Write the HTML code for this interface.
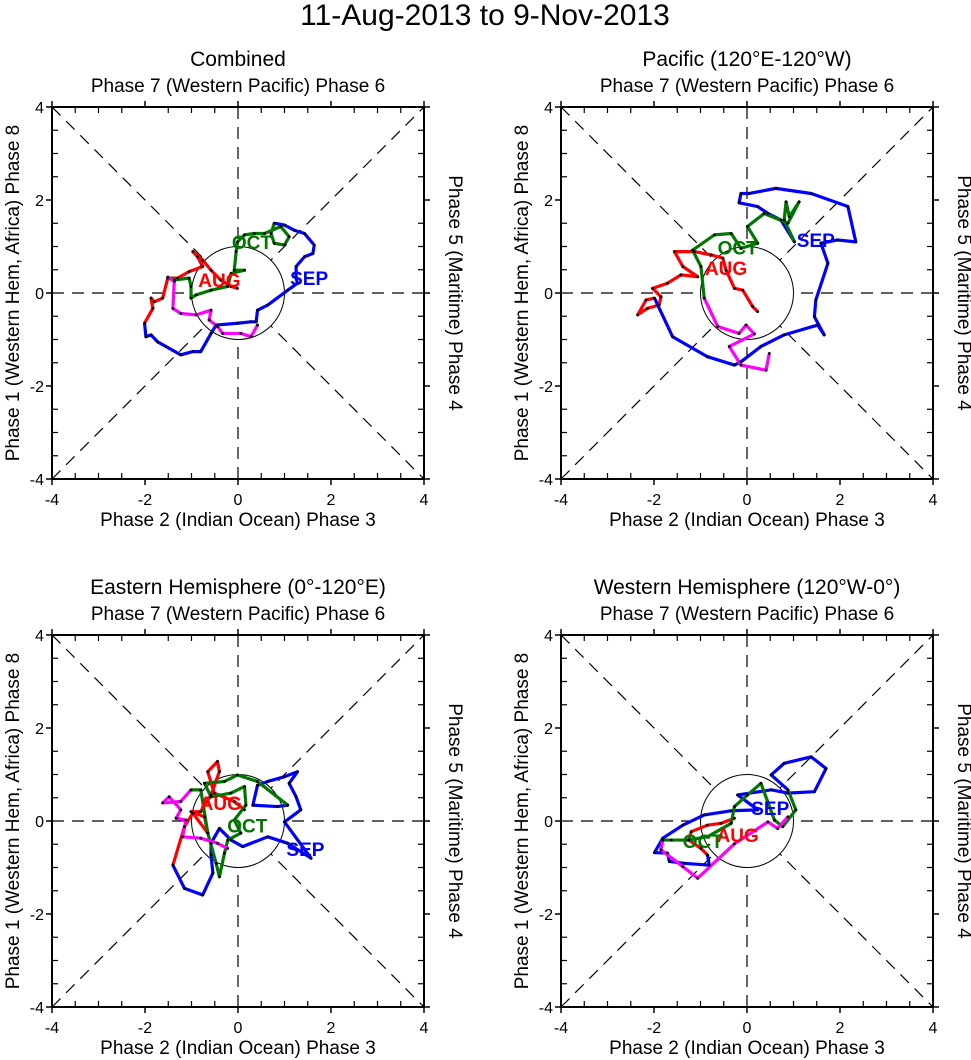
<!DOCTYPE html>
<html><head><meta charset="utf-8"><style>
body{margin:0;background:#fff;}
svg{display:block;font-family:"Liberation Sans",Arial,sans-serif;}
</style></head><body>
<svg id="chart" width="971" height="1060" viewBox="0 0 971 1060" xmlns="http://www.w3.org/2000/svg">
<text x="485" y="25" font-size="30" text-anchor="middle">11-Aug-2013 to 9-Nov-2013</text>
</svg>
<script>
// ---- data (RMM1, RMM2) per panel & month ----
const panelTitles = ["Combined","Pacific (120°E-120°W)","Eastern Hemisphere (0°-120°E)","Western Hemisphere (120°W-0°)"];
const monthNames = ["AUG","SEP","OCT","NOV"];
const monthColors = ["#ff0000","#0000ff","#007700","#ff00ff"];
const axisTicks = [-4,-2,0,2,4];

const p1Aug = [[-0.01,0.10],[-0.15,0.14],[-0.37,0.28],[-0.58,0.49],[-0.76,0.71],[-0.97,0.89],[-0.87,0.78],[-0.76,0.57],[-1.05,0.46],[-1.30,0.32],[-1.51,0.32],[-1.62,-0.11],[-1.80,-0.19],[-1.87,-0.11],[-1.83,-0.33],[-2.01,-0.65]];
const p1Sep = [[-2.01,-0.65],[-1.98,-0.94],[-1.87,-0.90],[-1.73,-1.05],[-1.55,-1.15],[-1.23,-1.33],[-0.97,-1.26],[-0.80,-1.26],[-0.58,-0.87],[-0.47,-0.69],[-0.01,-0.65],[0.28,-0.62],[0.39,-0.62],[0.42,-0.37],[0.64,-0.26],[1.07,0.06],[1.28,0.21],[1.25,0.32],[1.25,0.57],[1.43,0.78],[1.61,0.85],[1.64,1.03],[1.43,1.28],[1.21,1.35],[1.00,1.46],[0.78,1.50]];
const p1Oct = [[0.78,1.50],[0.71,1.28],[0.78,1.07],[1.00,1.03],[1.10,1.21],[0.92,1.43],[0.57,1.28],[0.35,1.28],[0.14,1.25],[-0.01,1.10],[-0.04,0.89],[-0.08,0.49],[0.14,0.49],[-0.15,0.42],[-0.22,0.14],[-0.58,0.06],[-0.90,-0.04],[-1.01,-0.11],[-1.01,0.14],[-1.05,0.32],[-1.37,0.28],[-1.51,0.34]];
const p1Nov = [[-1.51,0.34],[-1.37,0.25],[-1.40,-0.33],[-1.23,-0.44],[-0.90,-0.47],[-0.58,-0.37],[-0.62,-0.58],[-0.44,-0.72],[-0.33,-0.87],[0.06,-0.87],[0.28,-0.94],[0.42,-0.69]];

const p2Aug = [[0.23,-0.40],[0.12,-0.29],[-0.09,0.06],[-0.27,0.10],[-0.45,0.49],[-0.52,0.75],[-0.77,0.82],[-1.13,0.89],[-1.56,0.89],[-1.38,0.57],[-1.06,0.35],[-1.42,0.39],[-1.71,0.21],[-2.03,0.10],[-1.85,-0.08],[-1.89,-0.26],[-2.14,-0.33],[-2.35,-0.47],[-2.17,-0.15],[-1.99,-0.11]];
const p2Sep = [[-1.99,-0.11],[-1.60,-0.94],[-0.85,-1.37],[-0.27,-1.55],[-0.13,-1.48],[0.30,-1.15],[0.80,-0.90],[1.52,-0.69],[1.66,-0.90],[1.45,-0.51],[1.48,-0.15],[1.74,0.64],[1.59,1.07],[1.95,1.14],[2.34,1.10],[2.17,1.86],[1.38,2.14],[0.62,2.25],[0.05,2.14],[-0.13,2.14],[-0.17,1.94],[0.23,1.86],[0.45,1.71],[0.73,1.57],[1.02,1.10]];
const p2Oct = [[1.02,1.10],[0.80,1.57],[0.84,1.96],[0.91,1.64],[1.12,1.96],[0.88,1.50],[0.37,1.71],[0.01,1.43],[0.23,1.07],[-0.13,0.96],[-0.34,1.28],[-0.70,1.25],[-1.17,0.92],[-0.99,0.57],[-0.92,-0.11]];
const p2Nov = [[-0.92,-0.11],[-0.63,-0.72],[-0.17,-0.87],[-0.02,-0.69],[0.16,-0.88],[-0.38,-1.15],[-0.13,-1.55],[0.41,-1.66],[0.48,-1.30]];

const p3Aug = [[0.14,0.24],[-0.08,0.42],[-0.51,0.60],[-0.65,1.06],[-0.44,1.28],[-0.40,1.06],[-0.58,0.56],[-0.80,0.20],[-1.01,0.20],[-0.72,0.09],[-0.65,-0.26],[-0.97,0.17],[-1.15,-0.12],[-1.40,-0.95]];
const p3Sep = [[-1.40,-0.95],[-1.15,-1.45],[-0.76,-1.59],[-0.54,-1.12],[-0.58,-0.73],[-0.58,-0.48],[-0.40,-0.16],[-0.15,-0.41],[0.10,-0.55],[0.64,-0.34],[1.07,-0.48],[1.57,-0.80],[1.00,-0.02],[1.35,0.24],[1.25,0.52],[1.10,0.81],[1.28,1.06],[0.99,0.95],[0.64,0.85],[0.42,0.77],[0.32,0.34],[0.85,0.31],[1.07,0.34]];
const p3Oct = [[1.07,0.34],[0.42,0.85],[-0.01,0.99],[-0.29,0.85],[-0.72,0.81],[-0.58,0.52],[-0.15,0.60],[0.14,0.74],[0.17,0.34],[-0.08,0.02],[0.06,-0.26],[-0.22,-0.41],[-0.29,-0.69],[-0.40,-1.20],[-0.47,-0.91],[-0.65,-0.26],[-0.80,0.67],[-1.01,0.67]];
const p3Nov = [[-1.01,0.67],[-1.23,0.42],[-1.62,0.39],[-1.48,0.52],[-1.23,0.24],[-1.33,0.06],[-1.12,0.02],[-1.19,-0.34],[-0.80,-0.37],[-0.44,-0.48],[-0.22,-0.59]];

const p4Aug = [[-0.27,0.06],[-0.56,-0.05],[-0.85,-0.09],[-1.20,-0.23],[-1.25,-0.41],[-0.99,-0.59],[-0.85,-0.73]];
const p4Sep = [[-0.85,-0.73],[-0.81,-0.95],[-1.35,-0.91],[-1.67,-0.87],[-1.71,-0.69],[-1.99,-0.68],[-1.81,-0.37],[-1.38,-0.09],[-0.92,0.13],[-0.34,0.22],[0.23,0.24],[-0.20,0.56],[0.52,0.67],[0.88,0.60],[1.45,0.63],[1.70,1.13],[1.38,1.38],[0.80,1.24],[0.52,0.99],[0.88,0.67]];
const p4Oct = [[0.88,0.67],[1.05,0.24],[0.77,-0.12],[0.59,0.02],[0.30,0.81],[0.01,0.56],[-0.27,0.31],[-0.34,-0.05],[-0.85,-0.34],[-1.27,-0.41],[-1.63,-0.41],[-1.81,-0.41]];
const p4Nov = [[-1.81,-0.41],[-1.85,-0.62],[-1.38,-0.98],[-1.06,-1.23],[-0.27,-0.49],[0.45,-0.02],[0.66,-0.16],[0.88,0.09]];

const p1Labels = [[-0.4,0.28],[1.53,0.32],[0.3,1.1]];
const p2Labels = [[-0.45,0.54],[1.48,1.14],[-0.2,0.98]];
const p3Labels = [[-0.37,0.39],[1.45,-0.6],[0.2,-0.1]];
const p4Labels = [[-0.2,-0.3],[0.5,0.28],[-0.95,-0.43]];

const panelData = [[p1Aug,p1Sep,p1Oct,p1Nov],[p2Aug,p2Sep,p2Oct,p2Nov],[p3Aug,p3Sep,p3Oct,p3Nov],[p4Aug,p4Sep,p4Oct,p4Nov]];
const panelLabels = [p1Labels,p2Labels,p3Labels,p4Labels];

const NS="http://www.w3.org/2000/svg";
const svg=document.getElementById('chart');
function mk(tag,attrs,parent){const e=document.createElementNS(NS,tag);for(const k in attrs)e.setAttribute(k,attrs[k]);(parent||svg).appendChild(e);return e;}

const origins=[[52,107],[561,107],[52,635],[561,635]];
const size=372;
origins.forEach((o,pi)=>{
  const [x0,y0]=o;
  const g=mk('g',{});
  
  
  const sx=v=>x0+(v+4)/8*size;
  const sy=v=>y0+(4-v)/8*size;
  const cx=x0+size/2, cy=y0+size/2;
  let t=mk('text',{x:cx,y:y0-41,'font-size':21,'text-anchor':'middle'},g);t.textContent=panelTitles[pi];
  
  
  t=mk('text',{x:cx,y:y0-15,'font-size':19,'text-anchor':'middle'},g);t.textContent='Phase 7 (Western Pacific) Phase 6';
  
  
  t=mk('text',{x:cx,y:y0+size+47,'font-size':19,'text-anchor':'middle'},g);t.textContent='Phase 2 (Indian Ocean) Phase 3';
  
  
  t=mk('text',{x:0,y:0,'font-size':19,'text-anchor':'middle',transform:`translate(${x0-33},${cy}) rotate(-90)`},g);t.textContent='Phase 1 (Western Hem, Africa) Phase 8';
  
  
  t=mk('text',{x:0,y:0,'font-size':19,'text-anchor':'middle',transform:`translate(${x0+size+25},${cy}) rotate(90)`},g);t.textContent='Phase 5 (Maritime) Phase 4';
  
  
  const dash={stroke:'#000','stroke-width':1.2,'stroke-dasharray':'12,8',fill:'none'};
  mk('line',Object.assign({x1:sx(-4),y1:sy(4),x2:sx(4),y2:sy(-4)},dash),g);
  mk('line',Object.assign({x1:sx(-4),y1:sy(-4),x2:sx(4),y2:sy(4)},dash),g);
  mk('line',Object.assign({x1:sx(-4),y1:sy(0),x2:sx(4),y2:sy(0)},dash),g);
  mk('line',Object.assign({x1:sx(0),y1:sy(4),x2:sx(0),y2:sy(-4)},dash),g);
  mk('circle',{cx:cx,cy:cy,r:size/8,fill:'#fff',stroke:'#000','stroke-width':1},g);
  mk('rect',{x:x0,y:y0,width:size,height:size,fill:'none',stroke:'#000','stroke-width':2},g);
  for(let v=-4;v<=4;v+=0.5){
    const major=axisTicks.includes(v);
    if(major){
      mk('line',{x1:sx(v),y1:y0+size,x2:sx(v),y2:y0+size+6,stroke:'#000','stroke-width':1.5},g);
      mk('line',{x1:sx(v),y1:y0,x2:sx(v),y2:y0-6,stroke:'#000','stroke-width':1.5},g);
      mk('line',{x1:x0,y1:sy(v),x2:x0-6,y2:sy(v),stroke:'#000','stroke-width':1.5},g);
      mk('line',{x1:x0+size,y1:sy(v),x2:x0+size+6,y2:sy(v),stroke:'#000','stroke-width':1.5},g);
    } else {
      mk('line',{x1:sx(v),y1:y0+size,x2:sx(v),y2:y0+size-6,stroke:'#000','stroke-width':1.2},g);
      mk('line',{x1:sx(v),y1:y0,x2:sx(v),y2:y0+6,stroke:'#000','stroke-width':1.2},g);
      mk('line',{x1:x0,y1:sy(v),x2:x0+6,y2:sy(v),stroke:'#000','stroke-width':1.2},g);
      mk('line',{x1:x0+size,y1:sy(v),x2:x0+size-6,y2:sy(v),stroke:'#000','stroke-width':1.2},g);
    }
  }
  axisTicks.forEach(v=>{
    let tl=mk('text',{x:sx(v),y:y0+size+26,'font-size':16,'text-anchor':'middle'},g);tl.textContent=v;
    
    
    tl=mk('text',{x:x0-8,y:sy(v)+6,'font-size':16,'text-anchor':'end'},g);tl.textContent=v;
    
    
  });
  panelData[pi].forEach((pts,mi)=>{
    const p=mk('polyline',{points:pts.map(d=>sx(d[0])+','+sy(d[1])).join(' '),fill:'none',stroke:monthColors[mi],'stroke-width':3.2,'stroke-linejoin':'round'},g);
    
    
  });
  panelData[pi].forEach((pts)=>{
    pts.forEach(d=>{
      const c=mk('circle',{cx:sx(d[0]),cy:sy(d[1]),r:1.4,fill:'#000'},g);
      
      
    });
  });
  panelLabels[pi].forEach((d,li)=>{
    const mi=li;
    const lt=mk('text',{x:sx(d[0]),y:sy(d[1])+7,'font-size':19,'font-weight':'bold','text-anchor':'middle',fill:monthColors[mi]},g);
    lt.textContent=monthNames[mi];
    
    
  });
});
</script>
</body></html>
